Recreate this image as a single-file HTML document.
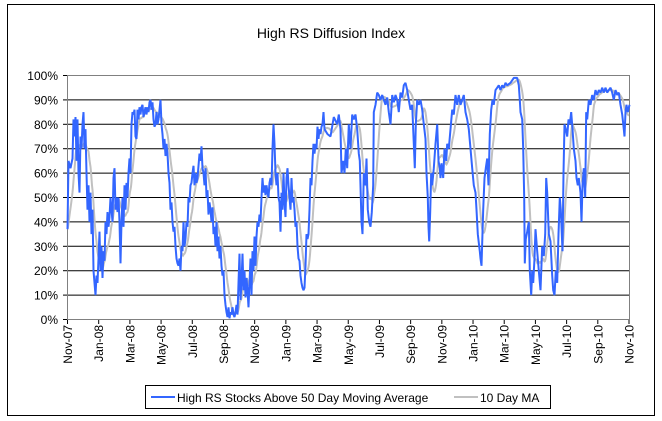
<!DOCTYPE html>
<html><head><meta charset="utf-8"><style>
body{margin:0;background:#fff;}
svg{display:block;font-family:"Liberation Sans",Arial,sans-serif;}
</style></head><body>
<svg id="s" width="662" height="421" xmlns="http://www.w3.org/2000/svg">
<rect x="0" y="0" width="662" height="421" fill="#fff"/>
<rect x="7.5" y="4.5" width="647" height="411" fill="none" stroke="#000" stroke-width="1"/>
<text x="331" y="38" font-size="14" text-anchor="middle">High RS Diffusion Index</text>
<g id="grid"></g>
<rect x="67.5" y="75.5" width="562" height="244" fill="none" stroke="#808080"/>
<g id="lines"></g>
<rect x="145.5" y="385.5" width="405" height="23" fill="#fff" stroke="#000"/>
<line x1="151" y1="397" x2="175" y2="397" stroke="#3366ff" stroke-width="2"/>
<text x="177" y="402" font-size="12">High RS Stocks Above 50 Day Moving Average</text>
<line x1="454" y1="397" x2="478" y2="397" stroke="#c0c0c0" stroke-width="2"/>
<text x="480" y="402" font-size="12">10 Day MA</text>
</svg>
<script>
var NS="http://www.w3.org/2000/svg";
function el(t,a,p,txt){var e=document.createElementNS(NS,t);for(var k in a)e.setAttribute(k,a[k]);if(txt)e.textContent=txt;p.appendChild(e);return e;}
var g=document.getElementById('grid'),L=document.getElementById('lines');
function Y(v){return 319.5-v*2.44;}
for(var i=0;i<=10;i++){var y=Y(i*10);
 if(i>0&&i<10)el('line',{x1:67.5,x2:629.5,y1:y,y2:y,stroke:'#000'},g);
 el('line',{x1:63,x2:67.5,y1:y,y2:y,stroke:'#000'},g);
 el('text',{x:58,y:y+4.5,'font-size':12,'text-anchor':'end'},g,(i*10)+'%');}
var labs=["Nov-07","Jan-08","Mar-08","May-08","Jul-08","Sep-08","Nov-08","Jan-09","Mar-09","May-09","Jul-09","Sep-09","Nov-09","Jan-10","Mar-10","May-10","Jul-10","Sep-10","Nov-10"];
for(var i=0;i<labs.length;i++){var x=67.5+i*(561.5/18);
 el('line',{x1:x,x2:x,y1:319.5,y2:324,stroke:'#000'},g);
 el('text',{x:0,y:0,'font-size':12,'text-anchor':'end',transform:'translate('+(x+4.5)+',325) rotate(-90)'},g,labs[i]);}
var A=[[67,37],[68,65],[70,62],[72,66],[73,82],[74,75],[75,83],[76,65],[77,82],[78,60],[79,52],[80,75],[81,70],[82,80],[83,85],[84,70],[85,78],[86,60],[87,45],[88,55],[89,40],[90,52],[91,35],[92,45],[93,20],[94,15],[95,10],[96,18],[97,15],[98,25],[99,36],[100,20],[101,30],[102,17],[103,28],[104,24],[105,40],[106,35],[107,44],[108,38],[109,42],[110,50],[111,45],[112,40],[113,58],[114,62],[115,45],[116,50],[117,44],[118,50],[119,40],[120,23],[121,40],[122,50],[123,38],[124,55],[125,45],[126,56],[127,50],[128,60],[129,66],[130,60],[131,80],[132,85],[133,84],[134,86],[135,75],[136,74],[137,86],[138,82],[139,87],[140,84],[141,87],[142,88],[143,83],[144,85],[145,87],[146,84],[147,87],[148,85],[149,89],[150,90],[151,86],[152,89],[153,82],[154,79],[155,80],[156,85],[157,80],[158,82],[159,86],[160,90],[161,80],[162,76],[163,70],[164,74],[165,67],[166,72],[167,68],[168,60],[169,56],[170,45],[171,48],[172,40],[173,36],[174,38],[175,30],[176,25],[177,23],[178,22],[179,25],[180,20],[181,30],[182,28],[183,40],[184,30],[185,33],[186,40],[187,38],[188,50],[189,48],[190,55],[191,56],[192,60],[193,63],[194,55],[195,60],[196,56],[197,58],[198,63],[199,68],[200,65],[201,71],[202,62],[203,60],[204,55],[205,62],[206,50],[207,53],[208,43],[209,48],[210,45],[211,40],[212,46],[213,35],[214,38],[215,30],[216,40],[217,28],[218,34],[219,25],[220,30],[221,22],[222,18],[223,20],[224,10],[225,6],[226,3],[227,1],[228,5],[229,0.5],[230,3],[231,2],[232,5],[233,2],[234,1],[235,3],[236,6],[237,2],[238,15],[239,27],[240,8],[241,15],[242,27],[243,12],[244,20],[245,9],[246,17],[247,12],[248,5],[249,15],[250,25],[251,10],[252,28],[253,20],[254,34],[255,22],[256,34],[257,40],[258,38],[259,43],[260,40],[261,50],[262,58],[263,52],[264,55],[265,51],[266,55],[267,52],[268,50],[269,56],[270,58],[271,55],[272,70],[273,80],[274,72],[275,60],[276,55],[277,60],[278,50],[279,48],[280,36],[281,52],[282,45],[283,60],[284,48],[285,42],[286,58],[287,62],[288,55],[289,50],[290,45],[291,58],[292,48],[293,50],[294,45],[295,38],[296,40],[297,30],[298,25],[299,24],[300,18],[301,15],[302,13],[303,12],[304,13],[305,22],[306,35],[307,33],[308,35],[309,45],[310,58],[311,55],[312,65],[313,72],[314,68],[315,72],[316,70],[317,79],[318,74],[319,78],[320,76],[321,79],[322,80],[323,85],[324,78],[327,76]];
var Z1=[[0,75],[10,83],[20,80],[25,84],[30,78],[33,60],[38,65],[42,60],[46,70],[50,62],[55,80],[60,70],[65,84],[70,82],[75,84],[80,78],[85,68],[88,65],[93,40],[96,35],[100,60],[105,55],[108,66],[112,45],[116,40],[120,38],[124,44],[128,55],[130,85],[135,88],[140,93],[145,92],[150,90],[155,92],[160,90],[165,88],[170,91],[175,85],[180,80],[185,92],[190,89],[195,92],[200,90],[205,85],[210,93],[215,91],[220,96],[225,97],[230,94],[235,90],[240,86],[245,88],[250,72],[253,62],[256,80],[260,90],[265,88],[270,90],[275,86],[280,80],[285,74],[288,60],[292,50],[294,38],[296,32],[299,44],[302,60],[305,55],[310,62],[315,72],[320,80],[324,65],[328,62],[330,58],[333,64],[338,58],[342,70],[347,65],[350,72],[355,70],[360,78],[365,86],[370,84],[375,92],[380,88],[385,92],[390,88],[395,90],[400,92],[405,85],[410,82],[415,78],[420,70],[425,62],[430,55],[435,52],[438,45],[442,35],[446,30],[448,28]];
var Z2=[[0,25],[3,22],[8,45],[12,58],[16,62],[20,66],[24,55],[28,76],[32,86],[36,90],[40,88],[45,94],[50,95],[55,96],[60,94],[65,96],[70,95],[75,97],[80,96],[90,97],[100,99],[110,99],[115,96],[118,90],[120,85],[125,82],[128,70],[131,50],[133,23],[136,33],[140,36],[145,40],[148,20],[152,10],[155,20],[158,15],[162,25],[165,37],[170,28],[175,20],[180,12],[185,30],[190,26],[194,35],[197,58],[200,52],[205,35],[210,32],[215,18],[218,12],[222,10],[226,20],[230,15],[234,35],[238,50],[241,45],[244,35],[246,28],[249,60],[252,80],[256,78],[260,75],[264,82],[268,80],[272,85],[276,78],[280,70],[285,65],[288,58],[292,55],[295,58],[300,52],[303,40],[306,55],[310,62],[314,50],[317,85],[320,82],[325,90],[330,88],[335,92],[340,90],[345,94],[350,92],[355,94],[360,93],[365,95],[370,93],[375,95],[380,93],[385,94],[390,95],[395,93],[400,90],[405,94],[410,92],[415,93],[420,88],[425,84],[430,78],[432,75],[435,85],[438,88],[442,85],[447,88]];
var P=A.concat(Z1.map(function(p){return [330+p[0]/3,p[1]];}),Z2.map(function(p){return [480+p[0]/3,p[1]];}));
function val(x){if(x<=P[0][0])return P[0][1];for(var i=0;i<P.length-1;i++){if(x<=P[i+1][0]){var t=(x-P[i][0])/(P[i+1][0]-P[i][0]);return P[i][1]+t*(P[i+1][1]-P[i][1]);}}return P[P.length-1][1];}
var bs=P.map(function(p){return (p[0]+0.5).toFixed(1)+','+Y(p[1]).toFixed(1);}).join(' ');
var gs=[];for(var x=67;x<=628.5;x+=0.5){var s=0,n=0;for(var d=0;d<=8;d+=0.5){s+=val(Math.max(67,x-d));n++;}gs.push((x+0.5)+','+Y(s/n).toFixed(1));}
el('polyline',{points:gs.join(' '),fill:'none',stroke:'#c0c0c0','stroke-width':2},L);
el('polyline',{points:bs,fill:'none',stroke:'#3366ff','stroke-width':2,'stroke-linejoin':'bevel'},L);
</script>
</body></html>
